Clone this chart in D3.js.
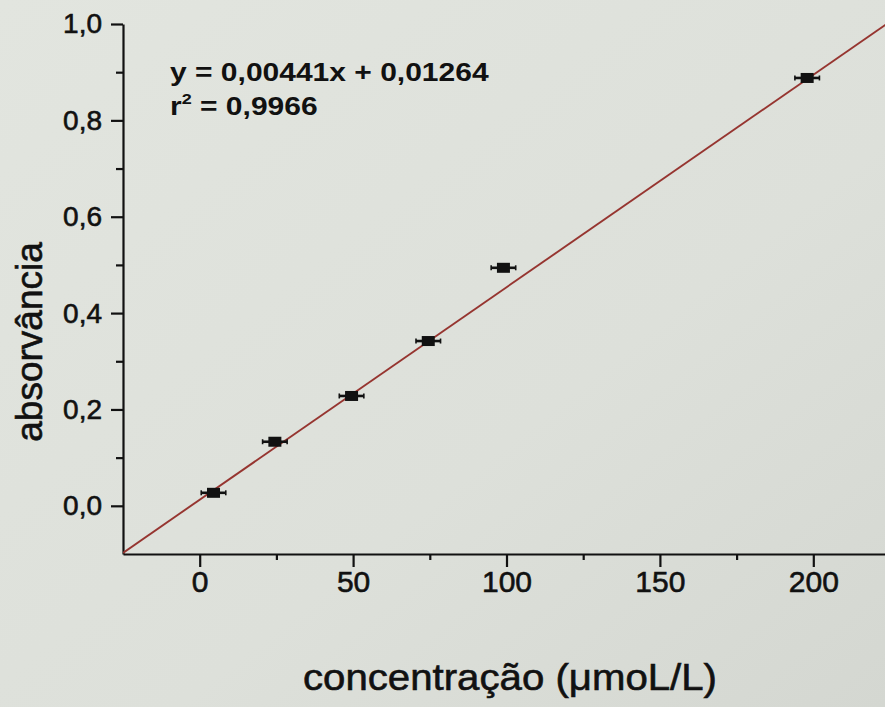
<!DOCTYPE html>
<html>
<head>
<meta charset="utf-8">
<script src="https://cdn.jsdelivr.net/npm/d3@7"></script>
<style>
  html, body { margin: 0; padding: 0; background: #dfe2dc; }
  svg { display: block; }
  text { font-family: "Liberation Sans", Arial, sans-serif; fill: #111; }
  .heavy { stroke: #111; stroke-width: 0.6px; }
</style>
</head>
<body>
<svg id="chart" width="885" height="707"></svg>
<script>
// Calibration data: concentration (µmol/L) vs absorbance
const concentration = [4.5, 24.5, 49.5, 74.5, 99, 198];
const absorbance    = [0.027, 0.133, 0.228, 0.342, 0.494, 0.888];
const concError     = [4, 4, 4, 4, 4, 4];

// Linear fit reported on the chart
const slope = 0.00441;
const intercept = 0.01264;
const rSquared = "0,9966";

const xMajorTicks = [0, 50, 100, 150, 200];
const xMinorTicks = [25, 75, 125, 175];
const yMajorTicks = [0.0, 0.2, 0.4, 0.6, 0.8, 1.0];
const yMinorTicks = [0.1, 0.3, 0.5, 0.7, 0.9];

const svg = d3.select("#chart");
const W = 885, H = 707;

// paper background
const defs = svg.append("defs");
const grad = defs.append("linearGradient").attr("id", "paper")
  .attr("x1", "0").attr("y1", "0").attr("x2", "1").attr("y2", "1");
grad.append("stop").attr("offset", "0%").attr("stop-color", "#e2e5df");
grad.append("stop").attr("offset", "60%").attr("stop-color", "#dde0da");
grad.append("stop").attr("offset", "100%").attr("stop-color", "#d4d7d1");
svg.append("rect").attr("width", W).attr("height", H).attr("fill", "url(#paper)");

const x = d3.scaleLinear().domain([-25, 225]).range([123, 890]);
const y = d3.scaleLinear().domain([-0.1, 1.0]).range([554, 24]);

const comma = d => d3.format(".1f")(d).replace(".", ",");

// X axis
const gx = svg.append("g").attr("transform", `translate(0,${y(-0.1)})`);
gx.call(d3.axisBottom(x).tickValues(xMajorTicks).tickSize(13).tickSizeOuter(0).tickPadding(4)
  .tickFormat(d3.format("d")));
gx.append("g").call(d3.axisBottom(x).tickValues(xMinorTicks).tickSize(6).tickSizeOuter(0).tickFormat(""))
  .select(".domain").remove();
gx.selectAll("text").style("font-size", "30px").attr("fill", "#111").classed("heavy", true);

// Y axis
const gy = svg.append("g").attr("transform", `translate(${x(-25)},0)`);
gy.call(d3.axisLeft(y).tickValues(yMajorTicks).tickSize(12).tickSizeOuter(0).tickPadding(9)
  .tickFormat(comma));
gy.append("g").call(d3.axisLeft(y).tickValues(yMinorTicks).tickSize(7).tickSizeOuter(0).tickFormat(""))
  .select(".domain").remove();
gy.selectAll("text").style("font-size", "28px").attr("fill", "#111").classed("heavy", true);

svg.selectAll(".domain, .tick line").attr("stroke", "#111").attr("stroke-width", 2.2);

// regression line
const clip = defs.append("clipPath").attr("id", "plot");
clip.append("rect").attr("x", x(-25)).attr("y", 0).attr("width", W).attr("height", y(-0.1));
const xs = [-25, 225];
svg.append("line")
  .attr("clip-path", "url(#plot)")
  .attr("x1", x(xs[0])).attr("y1", y(slope * xs[0] + intercept))
  .attr("x2", x(xs[1])).attr("y2", y(slope * xs[1] + intercept))
  .attr("stroke", "#963530").attr("stroke-width", 1.9);

// data points with horizontal error bars
const pts = concentration.map((c, i) => ({ c, a: absorbance[i], e: concError[i] }));
const pg = svg.append("g").selectAll("g").data(pts).join("g");
pg.append("line")
  .attr("x1", d => x(d.c - d.e)).attr("x2", d => x(d.c + d.e))
  .attr("y1", d => y(d.a)).attr("y2", d => y(d.a))
  .attr("stroke", "#111").attr("stroke-width", 2.6);
pg.selectAll(".cap").data(d => [d.c - d.e, d.c + d.e].map(v => ({ v, a: d.a }))).join("line")
  .attr("x1", d => x(d.v)).attr("x2", d => x(d.v))
  .attr("y1", d => y(d.a) - 2.5).attr("y2", d => y(d.a) + 2.5)
  .attr("stroke", "#111").attr("stroke-width", 1.6);
pg.append("rect")
  .attr("x", d => x(d.c) - 6.5).attr("y", d => y(d.a) - 5)
  .attr("width", 13).attr("height", 10)
  .attr("fill", "#111");

// fit equation
const eq = svg.append("g").attr("transform", "translate(170,81) scale(1.2,1)");
eq.append("text").style("font-size", "25px").style("font-weight", "bold")
  .text(`y = ${String(slope).replace(".", ",")}x + ${String(intercept).replace(".", ",")}`);
const eq2 = svg.append("g").attr("transform", "translate(170,115) scale(1.2,1)");
const t2 = eq2.append("text").style("font-size", "25px").style("font-weight", "bold");
t2.append("tspan").text("r");
t2.append("tspan").attr("dy", -11).style("font-size", "15px").text("2");
t2.append("tspan").attr("dy", 11).text(` = ${rSquared}`);

// axis titles
svg.append("text")
  .attr("x", 510).attr("y", 690)
  .attr("text-anchor", "middle")
  .attr("textLength", 414).attr("lengthAdjust", "spacingAndGlyphs")
  .classed("heavy", true)
  .style("font-size", "37px")
  .text("concentração (μmoL/L)");
svg.append("text")
  .attr("transform", "translate(42,342) rotate(-90)")
  .attr("text-anchor", "middle")
  .classed("heavy", true)
  .style("font-size", "37px")
  .text("absorvância");
</script>
</body>
</html>
